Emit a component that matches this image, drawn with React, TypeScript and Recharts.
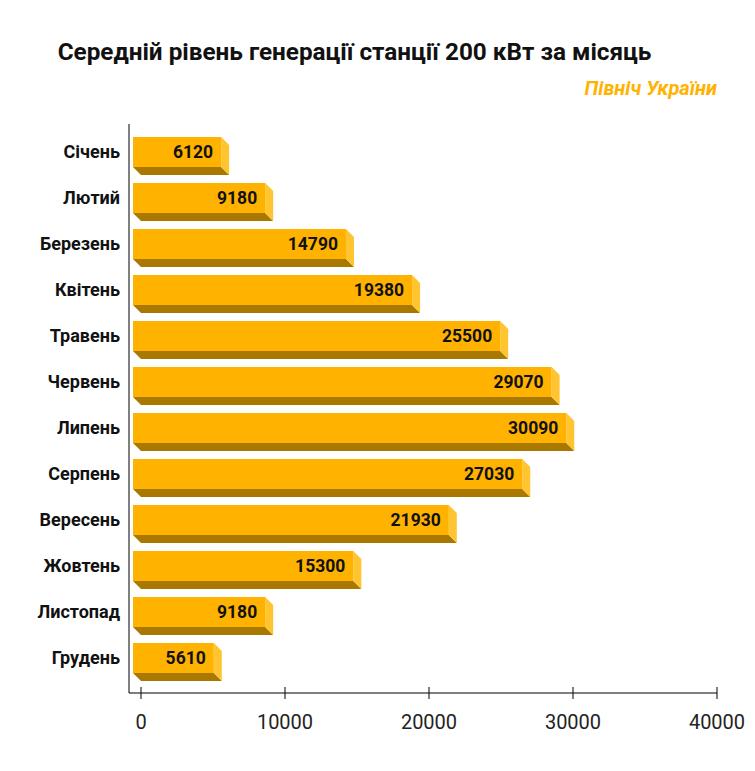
import React from 'react';
import { BarChart, Bar, XAxis, YAxis, LabelList } from 'recharts';

// monthly average output of a 200 kW station, northern Ukraine
const months = [
  'Січень', 'Лютий', 'Березень', 'Квітень', 'Травень', 'Червень',
  'Липень', 'Серпень', 'Вересень', 'Жовтень', 'Листопад', 'Грудень',
];
const output = [6120, 9180, 14790, 19380, 25500, 29070, 30090, 27030, 21930, 15300, 9180, 5610];
const xTicks = [0, 10000, 20000, 30000, 40000];

const data = months.map((m, i) => ({ month: m, value: output[i] }));

const FONT = 'Roboto, "Noto Sans", sans-serif';
const DEPTH = 8;
const FRONT = '#FFB300';
const BOTTOM = '#A87800';
const SIDE = '#FFC530';

// 3D box: front face shifted up-left, depth faces end at the real value
function BoxBar(props: any) {
  const { x, y, width, height } = props;
  if (!width || width <= 0) return null;
  const fx = x - DEPTH;
  const r = x + width;
  const b = y + height;
  return (
    <g>
      <polygon points={`${fx},${b} ${r - DEPTH},${b} ${r},${b + DEPTH} ${x},${b + DEPTH}`} fill={BOTTOM} />
      <polygon points={`${r - DEPTH},${y} ${r},${y + DEPTH} ${r},${b + DEPTH} ${r - DEPTH},${b}`} fill={SIDE} />
      <rect x={fx} y={y} width={width} height={height} fill={FRONT} />
    </g>
  );
}

function ValueLabel(props: any) {
  const { x, y, width, height, value } = props;
  return (
    <text
      x={x + width - 16}
      y={y + height / 2}
      dy={6}
      textAnchor="end"
      fontFamily={FONT}
      fontSize={17.5}
      fontWeight={700}
      fill="#111"
    >
      {value}
    </text>
  );
}

function XTick(props: any) {
  const { x, y, payload } = props;
  return (
    <g>
      <line x1={x} x2={x} y1={y - 6} y2={y + 6} stroke="#000" strokeWidth={1} />
      <text x={x} y={y + 36} textAnchor="middle" fontFamily={FONT} fontSize={20} fill="#222">
        {payload.value}
      </text>
    </g>
  );
}

export default function App() {
  return (
    <div style={{ position: 'absolute', left: 0, top: 0, width: 755, height: 771, background: '#fff', fontFamily: FONT }}>
      <div
        style={{
          position: 'absolute', left: 0, width: 709, top: 36, textAlign: 'center',
          fontSize: 24.3, fontWeight: 700, color: '#111', lineHeight: '32px',
        }}
      >
        Середній рівень генерації станції 200 кВт за місяць
      </div>
      <div
        style={{
          position: 'absolute', right: 38, top: 76, fontSize: 20, fontWeight: 700,
          fontStyle: 'italic', color: '#FFB300', lineHeight: '24px',
        }}
      >
        Північ України
      </div>
      <BarChart
        width={755}
        height={771}
        data={data}
        layout="vertical"
        margin={{ top: 124, right: 38, bottom: 0, left: 0 }}
      >
        <XAxis
          type="number"
          domain={[0, 40000]}
          ticks={xTicks}
          padding={{ left: 12, right: 0 }}
          height={78}
          tickSize={0}
          tickMargin={0}
          tickLine={false}
          axisLine={{ stroke: '#000' }}
          tick={<XTick />}
          interval={0}
        />
        <YAxis
          type="category"
          dataKey="month"
          width={129}
          padding={{ top: 5, bottom: 12 }}
          tickSize={0}
          tickMargin={9}
          tickLine={false}
          axisLine={{ stroke: '#000' }}
          tick={{ fontFamily: FONT, fontSize: 18, fontWeight: 700, fill: '#111' }}
          interval={0}
        />
        <Bar dataKey="value" barSize={30} shape={<BoxBar />} isAnimationActive={false}>
          <LabelList dataKey="value" content={<ValueLabel />} />
        </Bar>
      </BarChart>
    </div>
  );
}
